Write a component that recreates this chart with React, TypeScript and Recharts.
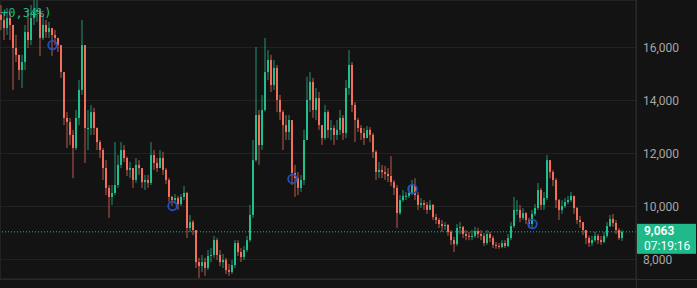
import {
  Bar,
  CartesianGrid,
  ComposedChart,
  ReferenceLine,
  Scatter,
  XAxis,
  YAxis
} from "recharts";

const firstOpen = 17250;

const closes = [
  17060, 16750, 17130, 16870, 16000, 15740, 15170, 15470, 16600, 16300,
  17130, 17360, 17430, 16380, 16870, 16600, 16750, 16490, 16380, 16110,
  15090, 13360, 13210, 12720, 12230, 13360, 14420, 16110, 12980, 12980,
  13580, 12980, 12450, 12150, 11470, 10720, 10380, 10530, 10830, 11590,
  12150, 11850, 11400, 11470, 11020, 11590, 11470, 10940, 11020, 10910,
  11960, 11660, 11470, 11850, 11400, 11020, 10380, 10260, 10340, 10110,
  10380, 10530, 9210, 9430, 9130, 7920, 7770, 7920, 7700, 8150,
  8190, 8750, 8190, 7920, 8000, 7620, 7550, 7810, 8640, 8300,
  8110, 8380, 8750, 9700, 11770, 13470, 12340, 13660, 15090, 15550,
  14600, 15250, 14040, 13580, 13090, 12830, 13280, 11280, 11090, 10720,
  11020, 12530, 14040, 14720, 13660, 14110, 13090, 12600, 13580, 12910,
  12980, 12720, 12910, 13360, 12790, 14490, 15360, 13850, 13280, 12980,
  12790, 12600, 12910, 12720, 12080, 11320, 11400, 11320, 11250, 11170,
  10940, 10720, 9770, 10260, 10420, 10420, 10530, 10830, 10450, 10080,
  10150, 10080, 9890, 10080, 9620, 9510, 9360, 9280, 9320, 9060,
  8750, 8600, 9210, 9250, 8980, 8910, 8870, 8910, 9090, 8980,
  8910, 8640, 8980, 8830, 8570, 8530, 8490, 8640, 8530, 8830,
  9280, 9890, 9890, 9590, 9770, 9510, 9360, 9740, 9960, 10640,
  10080, 10340, 11770, 11320, 11020, 10260, 9890, 10040, 10190, 10260,
  10420, 9960, 9510, 9430, 9130, 8830, 8640, 8750, 8910, 8750,
  8680, 8910, 9280, 9550, 9400, 9130, 8830, 9063
];

const highs = [
  17620, 17360, 17510, 17360, 16870, 16490, 15740, 15740, 16870, 17430,
  17620, 17800, 17800, 17500, 17250, 17060, 16980, 16750, 16680, 16380,
  16110, 15090, 13580, 13360, 12910, 13660, 14790, 17060, 16110, 13660,
  13850, 13740, 13000, 12530, 12230, 11770, 10830, 10830, 12450, 11960,
  12450, 12340, 11900, 11700, 11470, 11850, 11770, 11470, 11210, 11210,
  12450, 12150, 11850, 12150, 12080, 11470, 11090, 10420, 10490, 10420,
  10490, 10790, 10570, 9700, 9510, 9130, 8080, 8190, 8080, 8380,
  8450, 8910, 8830, 8380, 8230, 8080, 7850, 8000, 8750, 8750,
  8450, 8530, 8910, 10080, 12530, 16040, 13660, 14230, 16380, 15920,
  15740, 15550, 15360, 14230, 13660, 13470, 13470, 13280, 11590, 11320,
  11210, 12910, 14910, 15090, 14870, 14490, 14340, 13090, 13850, 13660,
  13280, 13090, 13280, 13660, 13470, 14790, 15920, 15470, 13960, 13360,
  13090, 12980, 13060, 13020, 12790, 12150, 11700, 11590, 11550, 11470,
  11920, 11020, 10830, 10450, 10640, 10570, 10790, 11020, 11090, 10570,
  10340, 10260, 10190, 10260, 10110, 9740, 9590, 9510, 9430, 9360,
  9130, 8870, 9360, 9430, 9280, 9130, 9060, 9130, 9250, 9210,
  9130, 9020, 9130, 9060, 8910, 8680, 8640, 8750, 8750, 8980,
  9430, 10380, 10260, 10080, 9960, 9810, 9590, 9890, 10110, 10910,
  10720, 10570, 11960, 11770, 11400, 11090, 10300, 10260, 10340, 10420,
  10570, 10420, 10000, 9660, 9430, 9130, 8910, 8910, 9060, 8980,
  8910, 9060, 9430, 9700, 9740, 9510, 9210, 9130
];

const lows = [
  16680, 16300, 16490, 16300, 14420, 15470, 14790, 14490, 15170, 16000,
  16110, 16870, 16980, 15700, 16300, 16380, 16380, 15700, 16110, 15850,
  14870, 13090, 12230, 12340, 11090, 12150, 13090, 14230, 11660, 12150,
  12720, 12720, 12150, 11850, 11020, 10450, 9590, 10080, 10450, 10720,
  11470, 11700, 11170, 11090, 10720, 10910, 11210, 10720, 10640, 10720,
  10830, 11400, 11320, 11470, 11210, 10870, 10190, 10040, 10110, 9890,
  10040, 10260, 8830, 9060, 8940, 7700, 7320, 7550, 7400, 7620,
  7920, 8080, 8000, 7770, 7700, 7470, 7400, 7470, 7700, 8150,
  7920, 8000, 8300, 8680, 9590, 11700, 11590, 12150, 13600, 14790,
  14340, 14420, 13580, 13280, 12150, 12530, 12530, 10830, 10380, 10450,
  10570, 10830, 12530, 13580, 13360, 13280, 12910, 12340, 12530, 12600,
  12530, 12340, 12530, 12720, 12530, 12600, 14230, 13580, 12450, 12830,
  12530, 12340, 12600, 12450, 11850, 11020, 11090, 11090, 11020, 10940,
  10790, 10450, 9210, 9700, 10190, 10260, 10340, 10450, 10260, 9890,
  9960, 9890, 9740, 9890, 9510, 9360, 9210, 9060, 9130, 8910,
  8570, 8300, 8530, 8980, 8830, 8750, 8750, 8750, 8830, 8830,
  8750, 8530, 8570, 8680, 8450, 8420, 8420, 8450, 8450, 8490,
  8750, 9210, 9700, 9430, 9510, 9360, 9210, 9210, 9660, 9890,
  9890, 9890, 10260, 11090, 10790, 9960, 9510, 9740, 9960, 10110,
  10190, 9740, 9360, 9210, 8940, 8600, 8490, 8530, 8680, 8600,
  8570, 8640, 8830, 9250, 9250, 8980, 8750, 8720
];

// blue signal circles: candle index + price
const markerIdx = [17, 57, 97, 137, 177];
const markerVals = [16110, 10040, 11060, 10680, 9360];

const timeTicks = [25, 59, 93, 127, 160, 195];
const priceTicks = [8000, 10000, 12000, 14000, 16000];
const yDomain = [7283, 17811];
const emptyBars = 4;

const lastPrice = 9063;
const countdown = "07:19:16";
const legendTail = "+0,34%)";

const BG = "#131313";
const GRID = "#222222";
const BORDER = "#2e2e2e";
const UP = "#22bf8e";
const DOWN = "#f2705b";
const TAG = "#1fb98a";

const data = [];
for (let i = 0; i < closes.length + emptyBars; i++) {
  if (i < closes.length) {
    const m = markerIdx.indexOf(i);
    data.push({
      i,
      open: i === 0 ? firstOpen : closes[i - 1],
      close: closes[i],
      high: highs[i],
      low: lows[i],
      range: [lows[i], highs[i]],
      marker: m >= 0 ? markerVals[m] : null
    });
  } else {
    data.push({ i, range: null, marker: null });
  }
}

const Candle = (props) => {
  const { x, y, height, payload } = props;
  if (!payload || payload.close == null || height == null) return <g />;
  const { open, close, high, low } = payload;
  let top = y;
  let h = height;
  if (h < 0) {
    top = y + h;
    h = -h;
  }
  const k = high > low ? h / (high - low) : 0;
  const bTop = top + (high - Math.max(open, close)) * k;
  const bBot = top + (high - Math.min(open, close)) * k;
  const color = close >= open ? UP : DOWN;
  const bx = Math.round(x);
  return (
    <g>
      <rect x={bx} y={top} width={2} height={Math.max(h, 1)} fill={color} fillOpacity={0.38} />
      <rect x={bx} y={bTop} width={2} height={Math.max(bBot - bTop, 1)} fill={color} />
    </g>
  );
};

const Ring = (props) => {
  const { cx, cy, payload } = props;
  if (!payload || payload.marker == null || cx == null || cy == null) return <g />;
  return <circle cx={cx} cy={cy} r={4.3} fill="none" stroke="#2450c4" strokeWidth={1.8} />;
};

const PriceTag = (props) => {
  const vb = props.viewBox || {};
  const x = vb.x + vb.width + 1;
  const y = vb.y;
  return (
    <g>
      <rect x={x} y={y - 8} width={59} height={30} fill={TAG} />
      <text x={x + 7} y={y + 3} fill="#ffffff" fontSize={12} fontWeight={600} fontFamily="Roboto">
        {lastPrice.toLocaleString("en-US")}
      </text>
      <text x={x + 7} y={y + 18} fill="#ffffff" fontSize={12} fontFamily="Roboto">
        {countdown}
      </text>
    </g>
  );
};

export default function App() {
  return (
    <div
      style={{
        position: "fixed",
        left: 0,
        top: 0,
        width: 697,
        height: 288,
        background: BG,
        overflow: "hidden"
      }}
    >
      <ComposedChart
        width={697}
        height={288}
        data={data}
        margin={{ top: 0, right: 0, left: 0, bottom: 0 }}
        barCategoryGap={0}
        barGap={0}
      >
        <CartesianGrid stroke={GRID} shapeRendering="crispEdges" />
        <XAxis
          dataKey="i"
          type="category"
          ticks={timeTicks}
          height={9}
          tick={false}
          tickLine={false}
          axisLine={{ stroke: BORDER }}
        />
        <YAxis
          orientation="right"
          width={61}
          domain={yDomain}
          ticks={priceTicks}
          allowDataOverflow
          tickLine={false}
          tickSize={0}
          tickMargin={7}
          axisLine={{ stroke: BORDER }}
          tick={{ fill: "#a6a6a6", fontSize: 12, fontFamily: "Roboto" }}
          tickFormatter={(v) => v.toLocaleString("en-US")}
        />
        <ReferenceLine
          y={lastPrice}
          stroke={TAG}
          strokeDasharray="1 2"
          label={<PriceTag />}
        />
        <Bar dataKey="range" shape={<Candle />} isAnimationActive={false} />
        <Scatter dataKey="marker" shape={<Ring />} isAnimationActive={false} />
      </ComposedChart>
      {/* pane borders continuing under the price scale */}
      <div style={{ position: "absolute", left: 636, top: 279, width: 61, height: 1, background: BORDER }} />
      <div style={{ position: "absolute", left: 636, top: 279, width: 1, height: 9, background: BORDER }} />
      <div
        style={{
          position: "absolute",
          left: 1,
          top: 5,
          color: TAG,
          fontFamily: "DejaVu Sans Mono",
          fontSize: 12,
          lineHeight: "16px"
        }}
      >
        {legendTail}
      </div>
    </div>
  );
}
